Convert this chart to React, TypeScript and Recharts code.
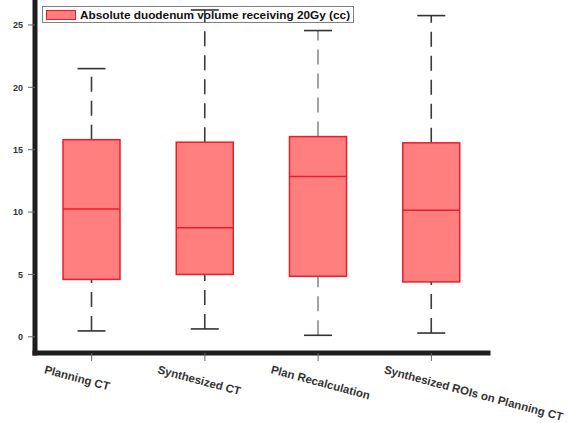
import React from 'react'
import {
  ComposedChart,
  Bar,
  XAxis,
  YAxis,
} from 'recharts'

const categories = [
  'Planning CT',
  'Synthesized CT',
  'Plan Recalculation',
  'Synthesized ROIs on Planning CT',
]
const whiskerLow = [0.47, 0.63, 0.12, 0.3]
const q1 = [4.6, 5.0, 4.85, 4.4]
const median = [10.25, 8.75, 12.85, 10.15]
const q3 = [15.8, 15.6, 16.05, 15.55]
const whiskerHigh = [21.5, 26.2, 24.55, 25.75]
const yTicks = [0, 5, 10, 15, 20, 25]

const seriesName = 'Absolute duodenum volume receiving 20Gy (cc)'

const BOX_FILL = '#ff7f7f'
const BOX_STROKE = '#ec1c2c'
const whiskerColors = ['#3a3a3a', '#3a3a3a', '#8c8c8c', '#3a3a3a']
const FONT = "'Liberation Sans', Arial, sans-serif"

type Row = {
  name: string
  min: number
  q1: number
  median: number
  q3: number
  max: number
  idx: number
}

const rows: Row[] = categories.map((name, i) => ({
  name,
  min: whiskerLow[i],
  q1: q1[i],
  median: median[i],
  q3: q3[i],
  max: whiskerHigh[i],
  idx: i,
}))

// the bar spans min..max; box, median and caps are placed on the same scale
function BoxShape(props: any) {
  const { x, y, width, height, payload } = props
  const top = Math.min(y, y + height)
  const h = Math.abs(height)
  const d: Row = payload
  const k = h / (d.max - d.min)
  const yOf = (v: number) => top + (d.max - v) * k
  const cx = x + width / 2
  const cap = 14
  const wc = whiskerColors[d.idx]
  return (
    <g>
      <path
        d={`M${cx},${yOf(d.min)}L${cx},${yOf(d.q1)}`}
        stroke={wc}
        strokeWidth={1.6}
        strokeDasharray="15 9"
      />
      <path
        d={`M${cx},${yOf(d.q3)}L${cx},${yOf(d.max)}`}
        stroke={wc}
        strokeWidth={1.6}
        strokeDasharray="15 9"
      />
      <line x1={cx - cap} x2={cx + cap} y1={yOf(d.min)} y2={yOf(d.min)} stroke="#333" strokeWidth={1.6} />
      <line x1={cx - cap} x2={cx + cap} y1={yOf(d.max)} y2={yOf(d.max)} stroke="#333" strokeWidth={1.6} />
      <rect
        x={x}
        y={yOf(d.q3)}
        width={width}
        height={yOf(d.q1) - yOf(d.q3)}
        fill={BOX_FILL}
        stroke={BOX_STROKE}
        strokeWidth={1.5}
      />
      <line x1={x} x2={x + width} y1={yOf(d.median)} y2={yOf(d.median)} stroke={BOX_STROKE} strokeWidth={1.5} />
    </g>
  )
}

function CategoryTick(props: any) {
  const { x, y, payload } = props
  return (
    <text
      transform={`translate(${x - 48},${y + 10}) rotate(15)`}
      textAnchor="start"
      fontFamily={FONT}
      fontWeight="bold"
      fontSize={11.5}
      fill="#333"
    >
      {payload.value}
    </text>
  )
}

// legend sits under the svg so whiskers can run across it
function BoxLegend() {
  return (
    <div
      style={{
        position: 'absolute',
        left: 42,
        top: 6,
        display: 'inline-flex',
        alignItems: 'center',
        boxSizing: 'border-box',
        border: '1.5px solid #808080',
        height: 17,
        padding: '0 3px',
        background: '#fff',
        fontFamily: FONT,
        fontWeight: 'bold',
        fontSize: 11.8,
        color: '#111',
        whiteSpace: 'nowrap',
      }}
    >
      <span
        style={{
          display: 'inline-block',
          boxSizing: 'border-box',
          width: 30,
          height: 10,
          background: BOX_FILL,
          border: `1px solid ${BOX_STROKE}`,
          marginRight: 4,
        }}
      />
      {seriesName}
    </div>
  )
}

export default function App() {
  return (
    <div style={{ position: 'absolute', left: 0, top: 0, width: 568, height: 423, background: '#fff' }}>
      <BoxLegend />
      <div style={{ position: 'absolute', left: 0, top: 0 }}>
        <ComposedChart
          width={568}
          height={423}
          data={rows}
          margin={{ top: 0, right: 80, bottom: 0, left: 0 }}
        >
          <XAxis
            dataKey="name"
            height={70}
            interval={0}
            tick={<CategoryTick />}
            tickSize={8}
            tickMargin={2}
            tickLine={{ stroke: '#666', strokeWidth: 1 }}
            axisLine={{ stroke: '#1e1e1e', strokeWidth: 5, strokeLinecap: 'square' }}
          />
          <YAxis
            width={35}
            type="number"
            domain={[-1.3, 27]}
            ticks={yTicks}
            allowDataOverflow
            tickSize={7}
            tickMargin={5}
            tick={{ fontSize: 9, fontWeight: 'bold', fill: '#333', fontFamily: FONT }}
            tickLine={{ stroke: '#666', strokeWidth: 1 }}
            axisLine={{ stroke: '#1e1e1e', strokeWidth: 5, strokeLinecap: 'square' }}
          />
          <Bar
            name={seriesName}
            dataKey={(d: Row) => [d.min, d.max]}
            barSize={57}
            fill={BOX_FILL}
            shape={<BoxShape />}
            isAnimationActive={false}
          />
        </ComposedChart>
      </div>
    </div>
  )
}
